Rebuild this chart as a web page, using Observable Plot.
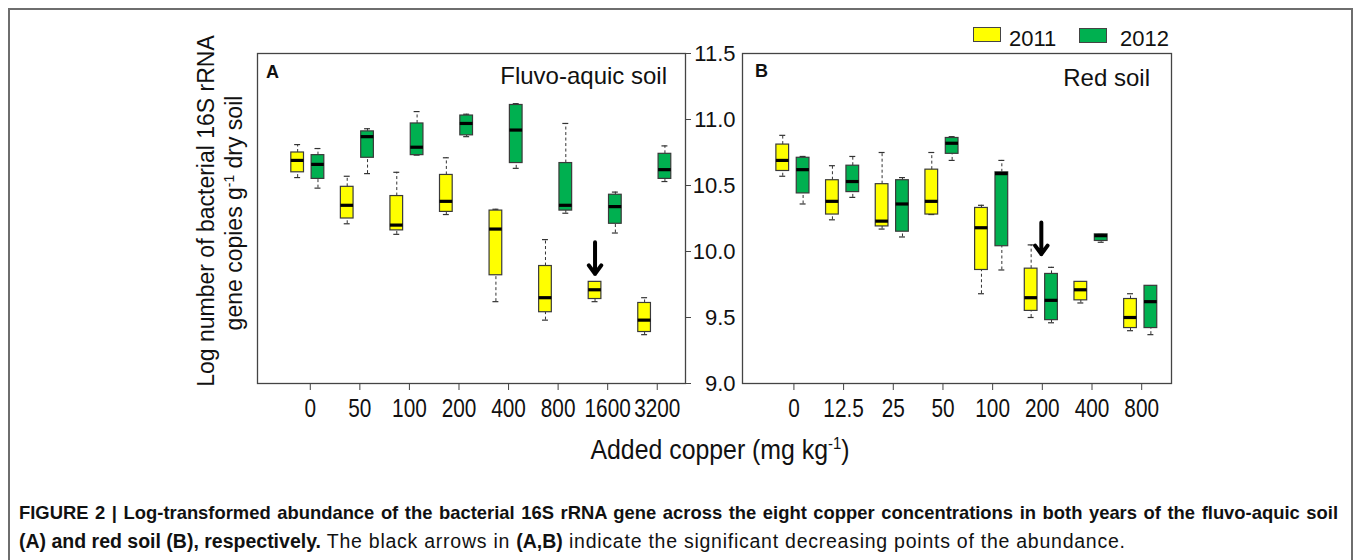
<!DOCTYPE html>
<html><head><meta charset="utf-8">
<script src="https://cdn.jsdelivr.net/npm/d3@7"></script>
<script src="https://cdn.jsdelivr.net/npm/@observablehq/plot@0.6"></script>
<style>
body{margin:0;background:#fff;}
#fig{position:relative;width:1355px;height:560px;overflow:hidden;font-family:"Liberation Sans",Arial,sans-serif;color:#111;}
.abs{position:absolute;white-space:nowrap;line-height:1;}
sup{font-size:60%;vertical-align:0;position:relative;top:-0.6em;}
.rot{transform:translate(-50%,-50%) rotate(-90deg);}
.cap1{text-align:justify;text-align-last:justify;width:1319px;}
.reg{letter-spacing:0.75px;}
</style></head><body>
<div id="fig">
  <div class="abs" style="left:8px;top:8px;width:1341px;height:600px;border:2px solid #6e6e6e;border-bottom:none;"></div>
  <div id="panelA" class="abs" style="left:240px;top:40px;"></div>
  <div id="panelB" class="abs" style="left:680px;top:40px;"></div>

  <div class="abs" style="left:266px;top:63px;font-size:18px;font-weight:bold;">A</div>
  <div class="abs" style="right:688px;top:64px;font-size:24px;">Fluvo-aquic soil</div>
  <div class="abs" style="left:755px;top:62px;font-size:18px;font-weight:bold;">B</div>
  <div class="abs" style="right:205px;top:66px;font-size:24px;">Red soil</div>

  <div class="abs" style="left:973px;top:27px;width:26px;height:13px;background:#FFFF00;border:1px solid #444;"></div>
  <div class="abs" style="left:1009px;top:28px;font-size:22px;">2011</div>
  <div class="abs" style="left:1079px;top:28px;width:26px;height:13px;background:#00B050;border:1px solid #444;"></div>
  <div class="abs" style="left:1120px;top:28px;font-size:22px;">2012</div>

  <div class="abs rot" style="left:206px;top:211px;font-size:23px;">Log number of bacterial 16S rRNA</div>
  <div class="abs rot" style="left:234px;top:213px;font-size:23px;">gene copies g<sup>-1</sup> dry soil</div>

  <div class="abs" style="left:720px;top:450px;transform:translate(-50%,-50%) scaleX(0.92);font-size:27px;">Added copper (mg kg<sup>-1</sup>)</div>

  <div class="abs cap1" style="left:19px;top:504px;font-size:18.4px;font-weight:bold;">FIGURE 2 | Log-transformed abundance of the bacterial 16S rRNA gene across the eight copper concentrations in both years of the fluvo-aquic soil</div>
  <div class="abs" style="left:19px;top:532px;font-size:19.5px;"><b>(A) and red soil (B), respectively.</b><span class="reg"> The black arrows in </span><b>(A,B)</b><span class="reg"> indicate the significant decreasing points of the abundance.</span></div>
</div>
<script>
// Category tick labels
const fluvoLabels = ["0","50","100","200","400","800","1600","3200"];
const redLabels = ["0","12.5","25","50","100","200","400","800"];
const yTicks = [9.0, 9.5, 10.0, 10.5, 11.0, 11.5];
// Each entry: [lower whisker, Q1, median, Q3, upper whisker]
const fluvo2011 = [
  [10.56,10.60,10.69,10.75,10.81],
  [10.21,10.25,10.35,10.49,10.57],
  [10.13,10.16,10.20,10.42,10.60],
  [10.28,10.30,10.38,10.58,10.71],
  [9.62, 9.82,10.17,10.31,10.32],
  [9.48, 9.54, 9.65, 9.89,10.09],
  [9.62, 9.64, 9.71, 9.77, 9.77],
  [9.37, 9.39, 9.48, 9.61, 9.65]];
const fluvo2012 = [
  [10.48,10.55,10.66,10.73,10.78],
  [10.59,10.71,10.87,10.91,10.93],
  [10.73,10.73,10.79,10.97,11.06],
  [10.87,10.88,10.97,11.03,11.04],
  [10.63,10.67,10.92,11.11,11.12],
  [10.29,10.31,10.35,10.67,10.97],
  [10.14,10.21,10.34,10.43,10.45],
  [10.53,10.55,10.62,10.74,10.80]];
const red2011 = [
  [10.57,10.61,10.69,10.81,10.88],
  [10.24,10.28,10.38,10.54,10.65],
  [10.17,10.19,10.23,10.51,10.75],
  [10.28,10.28,10.38,10.62,10.75],
  [9.68, 9.86,10.18,10.33,10.35],
  [9.50, 9.55, 9.65, 9.87,10.05],
  [9.61, 9.63, 9.71, 9.77, 9.77],
  [9.40, 9.42, 9.50, 9.64, 9.68]];
const red2012 = [
  [10.36,10.44,10.62,10.71,10.72],
  [10.41,10.45,10.53,10.65,10.72],
  [10.11,10.15,10.36,10.54,10.56],
  [10.69,10.74,10.82,10.86,10.87],
  [9.86,10.04,10.59,10.60,10.69],
  [9.46, 9.48, 9.63, 9.83, 9.88],
  [10.07,10.08,10.12,10.13,10.13],
  [9.37, 9.42, 9.62, 9.74, 9.74]];
// Arrows: category index, year it points at (null = between), start and end value
const arrowsA = [{cat: 6, year: "2011", from: 10.07, to: 9.83}];
const arrowsB = [{cat: 5, year: null, from: 10.22, to: 9.98}];

const years = ["2011", "2012"];
const colors = {"2011": "#FFFF00", "2012": "#00B050"};
const yearOffset = {"2011": -0.205, "2012": 0.205, "null": 0};
const halfBox = 0.128, halfCap = 0.06;

function rows(s2011, s2012) {
  const out = [];
  [s2011, s2012].forEach((s, k) => s.forEach((v, i) => out.push({
    x: i + yearOffset[years[k]], year: years[k],
    lo: v[0], q1: v[1], med: v[2], q3: v[3], hi: v[4]
  })));
  return out;
}

function condense(svg, labels, k) {
  svg.querySelectorAll("text").forEach(t => {
    if (t.closest('g[aria-label*="y-axis"]')) return;
    if (!labels.includes(t.textContent)) return;
    const tr = t.getAttribute("transform");
    if (tr) {
      t.setAttribute("transform", tr + ` scale(${k},1)`);
    } else {
      const x = t.getAttribute("x") || 0, y = t.getAttribute("y") || 0;
      t.setAttribute("x", 0); t.setAttribute("y", 0);
      t.setAttribute("transform", `translate(${x},${y}) scale(${k},1)`);
    }
  });
}

function panel(labels, s2011, s2012, arrows, o) {
  const data = rows(s2011, s2012);
  const tickShift = o.tickShift;
  const marks = [
    Plot.frame({stroke: "#444", strokeWidth: 1.3}),
    Plot.axisX({ticks: d3.range(labels.length).map(i => i + tickShift),
      tickFormat: d => labels[Math.round(d - tickShift)], tickSize: 7, tickPadding: 8,
      fontSize: 26, fontFamily: '"Liberation Sans",Arial,sans-serif', label: null, stroke: "#444"}),
    Plot.ruleX(data, {x: "x", y1: "q3", y2: "hi", stroke: "#333", strokeDasharray: "3,2.5", strokeWidth: 1}),
    Plot.ruleX(data, {x: "x", y1: "lo", y2: "q1", stroke: "#333", strokeDasharray: "3,2.5", strokeWidth: 1}),
    Plot.ruleY(data, {y: "hi", x1: d => d.x - halfCap, x2: d => d.x + halfCap, stroke: "#333", strokeWidth: 1.2}),
    Plot.ruleY(data, {y: "lo", x1: d => d.x - halfCap, x2: d => d.x + halfCap, stroke: "#333", strokeWidth: 1.2}),
    Plot.rect(data, {x1: d => d.x - halfBox, x2: d => d.x + halfBox, y1: "q1", y2: "q3",
      fill: d => colors[d.year], stroke: "#3a3a3a", strokeWidth: 1.2}),
    Plot.ruleY(data, {y: "med", x1: d => d.x - halfBox, x2: d => d.x + halfBox, stroke: "#000", strokeWidth: 3.2}),
    Plot.arrow(arrows, {x1: d => d.cat + yearOffset[String(d.year)], x2: d => d.cat + yearOffset[String(d.year)],
      y1: "from", y2: "to", stroke: "#000", strokeWidth: 4, headLength: 13, headAngle: 72})
  ];
  if (o.rightTicks) marks.push(Plot.axisY({anchor: "right", ticks: yTicks, tickSize: 5,
      tickFormat: () => "", label: null, stroke: "#444"}));
  if (o.leftLabels) marks.push(Plot.axisY({anchor: "left", ticks: yTicks, tickSize: 0, tickPadding: 7,
      tickFormat: d3.format(".1f"), fontSize: 22, fontFamily: '"Liberation Sans",Arial,sans-serif', label: null}));
  const svg = Plot.plot({
    width: o.width, height: 383, marginTop: 13, marginBottom: 40,
    marginLeft: o.marginLeft, marginRight: o.marginRight,
    x: {domain: [-1.015, 7.62], axis: null},
    y: {domain: [9, 11.5], axis: null},
    style: {background: "transparent", overflow: "visible", color: "#111"},
    marks
  });
  condense(svg, labels, 0.8);
  return svg;
}

document.getElementById("panelA").appendChild(
  panel(fluvoLabels, fluvo2011, fluvo2012, arrowsA, {width: 455, marginLeft: 17, marginRight: 10, tickShift: 0.05, rightTicks: true}));
document.getElementById("panelB").appendChild(
  panel(redLabels, red2011, red2012, arrowsB, {width: 501, marginLeft: 62, marginRight: 10, tickShift: 0.02, leftLabels: true}));
</script>
</body></html>
